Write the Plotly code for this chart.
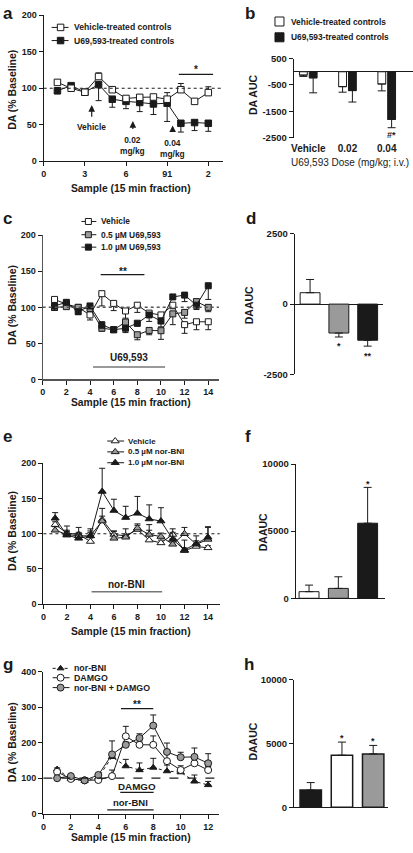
import plotly.graph_objects as go

W, H = 413, 853
FONT = "Liberation Sans"
INK = "#1a1a1a"
GREY = "#9a9a9a"

# ---------------- data ----------------
# Panel a
sample_a = [1, 2, 3, 4, 5, 6, 7, 8, 9, 10, 11, 12]
a_vehicle = [108, 100, 94.5, 116, 98, 86, 87.5, 88, 85, 98, 82, 94]
a_vehicle_sem = [3, 2, 2, 5, 3, 3, 3, 3, 9, 8.5, 2, 8]
a_u69 = [96.5, 103.5, 94.5, 105, 85, 82, 80.5, 78.5, 79.5, 52, 53, 52]
a_u69_sem = [4, 3, 3, 22, 11, 10, 12.5, 14.5, 25, 12, 11, 11]
a_xticks = [0, 3, 6, 9, 12]
a_xticktext = ["0", "3", "6", "91", "2"]
pct_ticks = [0, 50, 100, 150, 200]

# Panel b
b_doses = ["Vehicle", "0.02", "0.04"]
b_vehicle = [-127, -565, -465]
b_vehicle_sem = [50, 210, 260]
b_u69 = [-230, -715, -1810]
b_u69_sem = [570, 435, 315]
b_yticks = [500, -500, -1500, -2500]

# Panel c
sample_14 = [1, 2, 3, 4, 5, 6, 7, 8, 9, 10, 11, 12, 13, 14]
c_vehicle = [111, 104.5, 100, 89.5, 119, 105.5, 95, 103, 92, 89.5, 103, 76, 80, 80]
c_vehicle_sem = [4, 3, 3, 7, 17, 10, 10, 10, 6, 4, 5, 12, 11, 11]
c_low = [100, 101, 100, 98.5, 71, 69, 79.5, 62, 68, 67.6, 91, 93, 108, 100]
c_low_sem = [4, 3, 3, 3, 4, 3, 10, 7, 6, 12, 15, 8, 3, 6]
c_high = [102, 107, 94, 102, 76, 69, 71, 78, 89.5, 81, 114.5, 117, 103, 130]
c_high_sem = [6, 3, 4, 3, 5, 3, 6, 4, 9, 8, 3, 9, 6, 19]
even14 = [0, 2, 4, 6, 8, 10, 12, 14]

# Panel d
d_groups = ["Vehicle", "0.5 µM U69,593", "1.0 µM U69,593"]
d_auc = [405, -1028, -1283]
d_sem = [470, 140, 210]
d_yticks = [-2500, 0, 2500]

# Panel e
e_vehicle = [113, 101, 99, 89, 120, 99, 97, 106, 91, 87, 99, 76, 82, 80]
e_vehicle_sem = [4, 10, 10, 18, 5, 5, 10, 6, 22, 4, 3, 4, 3, 3]
e_low = [105, 99, 97, 97, 118, 93.5, 95, 108, 99, 96, 85, 100, 85, 92]
e_low_sem = [5, 4, 5, 5, 18, 10, 3, 6, 6, 5, 8, 9, 5, 18]
e_high = [122, 98, 93.5, 97, 160, 133, 123, 129, 121, 118, 92, 77, 86, 95]
e_high_sem = [8, 7, 6, 7, 33, 16, 16, 24, 20, 19, 15, 14, 11, 14]

# Panel f
f_groups = ["Vehicle", "0.5 µM nor-BNI", "1.0 µM nor-BNI"]
f_auc = [490, 735, 5590]
f_sem = [490, 865, 2670]
auc_ticks = [0, 5000, 10000]

# Panel g
sample_g = [1, 2, 3, 4, 5, 6, 7, 8, 9, 10, 11, 12]
g_norbni = [125, 98, 93, 102, 160, 134, 123, 130, 120, 117, 91, 81]
g_norbni_sem = [4, 4, 4, 4, 8, 19, 20, 26, 17, 8, 18, 10]
g_damgo = [118, 98, 94, 95, 106, 218, 194, 194, 148, 123, 142, 123]
g_damgo_sem = [4, 4, 4, 4, 17, 28, 8, 25, 26, 12, 22, 10]
g_combo = [100, 106, 94, 109, 167, 194, 213, 248, 174, 159, 160, 142]
g_combo_sem = [4, 4, 4, 4, 38, 8, 12, 30, 25, 14, 25, 27]
even12 = [0, 2, 4, 6, 8, 10, 12]
g_yticks = [0, 100, 200, 300, 400]

# Panel h
h_groups = ["nor-BNI", "DAMGO", "nor-BNI + DAMGO"]
h_auc = [1345, 4070, 4170]
h_sem = [585, 1030, 670]

# ---------------- helpers ----------------
def xdom(l, r):
    return [l / W, r / W]

def ydom(t, b):
    return [1 - b / H, 1 - t / H]

def bfont(size, color=INK, weight="bold"):
    return dict(family=FONT, size=size, color=color, weight=weight)

def axis(**kw):
    base = dict(showline=True, linecolor=INK, linewidth=1.2, ticks="outside",
                ticklen=4, tickwidth=1, tickcolor=INK, showgrid=False,
                zeroline=False, tickfont=bfont(9), fixedrange=True)
    base.update(kw)
    return base

fig = go.Figure()

def series(x, y, sem, up, xa, ya, symbol, fill, size=6.5, dash="solid"):
    zeros = [0] * len(sem)
    fig.add_trace(go.Scatter(
        x=x, y=y, mode="lines+markers", xaxis=xa, yaxis=ya, showlegend=False,
        line=dict(color=INK, width=1, dash=dash),
        marker=dict(symbol=symbol, size=size, color=fill, line=dict(color=INK, width=1)),
        error_y=dict(type="data", symmetric=False,
                     array=sem if up else zeros, arrayminus=zeros if up else sem,
                     color=INK, thickness=1, width=3),
        hoverinfo="skip"))

def bars(cats, vals, sem, colors, xa, ya, width, offset=None, lw=1):
    up = [s if v >= 0 else 0 for v, s in zip(vals, sem)]
    dn = [s if v < 0 else 0 for v, s in zip(vals, sem)]
    kw = dict(offset=offset) if offset is not None else {}
    fig.add_trace(go.Bar(
        x=cats, y=vals, xaxis=xa, yaxis=ya, width=width, showlegend=False,
        marker=dict(color=colors, line=dict(color=INK, width=lw)),
        error_y=dict(type="data", symmetric=False, array=up, arrayminus=dn,
                     color=INK, thickness=1, width=4),
        hoverinfo="skip", **kw))

# ---------------- traces ----------------
# a
series(sample_a, a_u69, a_u69_sem, False, "x", "y", "square", INK)
series(sample_a, a_vehicle, a_vehicle_sem, True, "x", "y", "square", "white")
# b
bars(b_doses, b_vehicle, b_vehicle_sem, "white", "x2", "y2", 0.2, offset=-0.225)
bars(b_doses, b_u69, b_u69_sem, INK, "x2", "y2", 0.2, offset=0.025)
# c
series(sample_14, c_vehicle, c_vehicle_sem, False, "x3", "y3", "square", "white", 6)
series(sample_14, c_low, c_low_sem, False, "x3", "y3", "square", GREY, 6)
series(sample_14, c_high, c_high_sem, False, "x3", "y3", "square", INK, 6)
# d
bars(d_groups, d_auc, d_sem, ["white", GREY, INK], "x4", "y4", 0.69)
# e
series(sample_14, e_vehicle, e_vehicle_sem, True, "x5", "y5", "triangle-up", "white", 7)
series(sample_14, e_low, e_low_sem, True, "x5", "y5", "triangle-up", GREY, 7)
series(sample_14, e_high, e_high_sem, True, "x5", "y5", "triangle-up", INK, 7)
# f
bars(f_groups, f_auc, f_sem, ["white", GREY, INK], "x6", "y6", 0.68)
# g
series(sample_g, g_norbni, g_norbni_sem, True, "x7", "y7", "triangle-up", INK, 6.5, dash="dot")
series(sample_g, g_damgo, g_damgo_sem, True, "x7", "y7", "circle", "white", 7)
series(sample_g, g_combo, g_combo_sem, True, "x7", "y7", "circle", GREY, 7)
# h
bars(h_groups, h_auc, h_sem, [INK, "white", GREY], "x8", "y8", 0.685, lw=1.5)

# ---------------- legends (pixel overlay axis) ----------------
annotations = []
shapes = []

def legend_item(y, xl0, xl1, xm, xt, symbol, fill, text, fsize, msize=6.5, dash="solid", line=True):
    if line:
        fig.add_trace(go.Scatter(x=[xl0, xl1], y=[y, y], mode="lines", xaxis="x9", yaxis="y9",
                                 line=dict(color=INK, width=1, dash=dash), showlegend=False,
                                 hoverinfo="skip"))
    fig.add_trace(go.Scatter(x=[xm], y=[y], mode="markers", xaxis="x9", yaxis="y9",
                             marker=dict(symbol=symbol, size=msize, color=fill,
                                         line=dict(color=INK, width=1)),
                             showlegend=False, hoverinfo="skip"))
    annotations.append(dict(x=xt, y=y, xref="x9", yref="y9", text=text, showarrow=False,
                            xanchor="left", yanchor="middle", font=bfont(fsize)))

legend_item(21.7, 49, 66, 58, 69, "square", "white", "Vehicle-treated controls", 8.6)
legend_item(35.0, 49, 66, 58, 69, "square", INK, "U69,593-treated controls", 8.6)
legend_item(15.7, 0, 0, 278.5, 288, "square", "white", "Vehicle-treated controls", 8.4, 9, line=False)
legend_item(31.7, 0, 0, 278.5, 288, "square", INK, "U69,593-treated controls", 8.4, 9, line=False)
legend_item(218.3, 79, 94, 86, 97, "square", "white", "Vehicle", 8.4, 6)
legend_item(231.7, 79, 94, 86, 97, "square", GREY, "0.5 µM U69,593", 8.4, 6)
legend_item(244.3, 79, 94, 86, 97, "square", INK, "1.0 µM U69,593", 8.4, 6)
legend_item(440.7, 105, 122, 113, 124, "triangle-up", "white", "Vehicle", 8, 7)
legend_item(451.7, 105, 122, 113, 124, "triangle-up", GREY, "0.5 µM nor-BNI", 8, 7)
legend_item(462.7, 105, 122, 113, 124, "triangle-up", INK, "1.0 µM nor-BNI", 8, 7)
legend_item(671.0, 50, 67, 58, 70, "triangle-up", INK, "nor-BNI", 8.8, 6, dash="dot")
legend_item(680.5, 50, 67, 58, 70, "circle", "white", "DAMGO", 8.8, 7)
legend_item(690.5, 50, 67, 58, 70, "circle", GREY, "nor-BNI + DAMGO", 8.8, 7)

# ---------------- text, arrows, bars ----------------
def px_text(x, y, text, size, angle=0, weight="bold", anchor="center"):
    annotations.append(dict(x=x, y=y, xref="x9", yref="y9", text=text, showarrow=False,
                            textangle=angle, xanchor=anchor, yanchor="middle",
                            font=bfont(size, weight=weight)))

def d_text(x, y, text, xa, ya, size):
    annotations.append(dict(x=x, y=y, xref=xa, yref=ya, text=text, showarrow=False,
                            xanchor="center", yanchor="middle", font=bfont(size)))

def d_line(x0, x1, y, xa, ya, color=INK, width=1.2):
    shapes.append(dict(type="line", xref=xa, yref=ya, x0=x0, x1=x1, y0=y, y1=y,
                       line=dict(color=color, width=width)))

def baseline(ya, xa, dash, color=INK, width=1.2):
    shapes.append(dict(type="line", xref=xa + " domain", yref=ya, x0=0, x1=1, y0=100, y1=100,
                       line=dict(color=color, width=width, dash=dash)))

def arrow(x, y_head, y_tail, xa, ya):
    annotations.append(dict(x=x, y=y_head, ax=x, ay=y_tail, xref=xa, yref=ya, axref=xa, ayref=ya,
                            text="", showarrow=True, arrowhead=2, arrowsize=1.1,
                            arrowwidth=1.2, arrowcolor=INK))

# panel letters
for letter, lx, ly in [("a", 5, 8), ("b", 249, 8), ("c", 5, 215), ("d", 250, 215),
                       ("e", 5, 436), ("f", 247, 436), ("g", 5, 667), ("h", 248, 667)]:
    px_text(lx, ly, letter, 17)

# axis titles
for ty in (185, 401.5, 634, 842):
    px_text(129, ty, "Sample (15 min fraction)", 10.3)
for ty in (85, 303, 532, 746):
    px_text(9, ty, "DA (% Baseline)", 10.5, angle=-90)
px_text(252, 90, "DA AUC", 10.5, angle=-90)
px_text(349.5, 159, "U69,593 Dose (mg/kg; i.v.)", 10, weight="normal")
px_text(248, 303, "DAAUC", 10.5, angle=-90)
px_text(262, 533, "DAAUC", 10.5, angle=-90)
px_text(252, 745, "DAAUC", 10.5, angle=-90)

# panel a
baseline("y", "x", "dot")
arrow(3.5, 77, 59, "x", "y")
arrow(6.5, 55, 42, "x", "y")
arrow(9.4, 49, 39, "x", "y")
d_text(3.5, 47.5, "Vehicle", "x", "y", 8.4)
d_text(6.45, 22, "0.02<br>mg/kg", "x", "y", 8.4)
d_text(9.38, 17, "0.04<br>mg/kg", "x", "y", 8.4)
d_line(9.85, 12.35, 119, "x", "y")
d_text(11.1, 125, "*", "x", "y", 10)
# panel b
d_text(2.115, -2400, "#*", "x2", "y2", 9)
# panel c
baseline("y3", "x3", "dot", color="#555", width=1.5)
d_line(4.9, 8.6, 145.5, "x3", "y3")
d_text(6.75, 150, "**", "x3", "y3", 10)
d_line(4.26, 10.35, 17.3, "x3", "y3", color="#777", width=1.5)
d_text(7.3, 30, "U69,593", "x3", "y3", 10)
# panel d
d_text(1, -1480, "*", "x4", "y4", 9)
d_text(2, -1830, "**", "x4", "y4", 9)
# panel e
baseline("y5", "x5", "dot", width=1)
d_line(4.1, 10.1, 17.8, "x5", "y5", color="#777", width=1.5)
d_text(7.1, 28.5, "nor-BNI", "x5", "y5", 10)
# panel f
d_text(2, 8530, "*", "x6", "y6", 9)
# panel g
baseline("y7", "x7", "dash")
d_line(5.65, 8.0, 296, "x7", "y7")
d_text(6.8, 307, "**", "x7", "y7", 10)
d_line(5.6, 8.03, 60, "x7", "y7")
d_text(6.8, 77, "DAMGO", "x7", "y7", 9.8)
d_line(4.65, 8.03, 11, "x7", "y7")
d_text(6.35, 32, "nor-BNI", "x7", "y7", 9.5)
# panel h
d_text(1, 5440, "*", "x8", "y8", 9)
d_text(2, 5180, "*", "x8", "y8", 9)

# ---------------- axes ----------------
rfont = bfont(9.5)
layout_axes = dict(
    xaxis=axis(domain=xdom(41, 222), range=[0, 13.1], tickvals=a_xticks, ticktext=a_xticktext, anchor="y"),
    yaxis=axis(domain=ydom(9.3, 157.3), range=[0, 200], tickvals=pct_ticks, anchor="x"),
    xaxis2=axis(domain=xdom(293, 413), type="category", range=[-0.367, 2.67], showline=False,
                ticks="", anchor="y2", tickfont=bfont(10), ticklabelstandoff=3),
    yaxis2=axis(domain=ydom(53.3, 133.3), range=[-2500, 500], tickvals=b_yticks,
                ticktext=[str(v) for v in b_yticks], zeroline=True, zerolinecolor=INK,
                zerolinewidth=1.2, anchor="x2", tickfont=rfont),
    xaxis3=axis(domain=xdom(40, 217.5), range=[0, 14.9], tickvals=even14, anchor="y3", linecolor="#555"),
    yaxis3=axis(domain=ydom(232.3, 378.3), range=[0, 200], tickvals=pct_ticks, anchor="x3", linecolor="#555"),
    xaxis4=axis(domain=xdom(294, 383), type="category", range=[-0.528, 2.54], showline=False,
                ticks="", showticklabels=False, anchor="y4"),
    yaxis4=axis(domain=ydom(230.7, 373.3), range=[-2500, 2500], tickvals=d_yticks,
                ticktext=[str(v) for v in d_yticks], zeroline=True, zerolinecolor=INK,
                zerolinewidth=1.2, anchor="x4", tickfont=rfont),
    xaxis5=axis(domain=xdom(40.7, 218.3), range=[0, 15], tickvals=even14, anchor="y5"),
    yaxis5=axis(domain=ydom(463.3, 606), range=[0, 200], tickvals=pct_ticks, anchor="x5"),
    xaxis6=axis(domain=xdom(295, 385), type="category", range=[-0.45, 2.6], ticks="",
                showticklabels=False, anchor="y6"),
    yaxis6=axis(domain=ydom(464, 600), range=[0, 10000], tickvals=auc_ticks,
                ticktext=[str(v) for v in auc_ticks], anchor="x6", tickfont=rfont),
    xaxis7=axis(domain=xdom(40.7, 218), range=[0, 12.82], tickvals=even12, anchor="y7"),
    yaxis7=axis(domain=ydom(674.3, 818.3), range=[0, 400], tickvals=g_yticks, anchor="x7"),
    xaxis8=axis(domain=xdom(293.3, 388), type="category", range=[-0.53, 2.48], ticks="",
                showticklabels=False, anchor="y8"),
    yaxis8=axis(domain=ydom(682.3, 811.7), range=[0, 10000], tickvals=auc_ticks,
                ticktext=[str(v) for v in auc_ticks], anchor="x8", tickfont=rfont),
    xaxis9=dict(domain=[0, 1], range=[0, W], visible=False, fixedrange=True, anchor="y9"),
    yaxis9=dict(domain=[0, 1], range=[H, 0], visible=False, fixedrange=True, anchor="x9"),
)

fig.update_layout(
    width=W, height=H, margin=dict(l=0, r=0, t=0, b=0),
    paper_bgcolor="white", plot_bgcolor="rgba(0,0,0,0)",
    font=bfont(9), barmode="overlay", showlegend=False, hovermode=False,
    annotations=annotations, shapes=shapes, **layout_axes)

fig.write_html("out.html", config={"displayModeBar": False, "staticPlot": True},
               post_script="document.body.style.margin='0';")
